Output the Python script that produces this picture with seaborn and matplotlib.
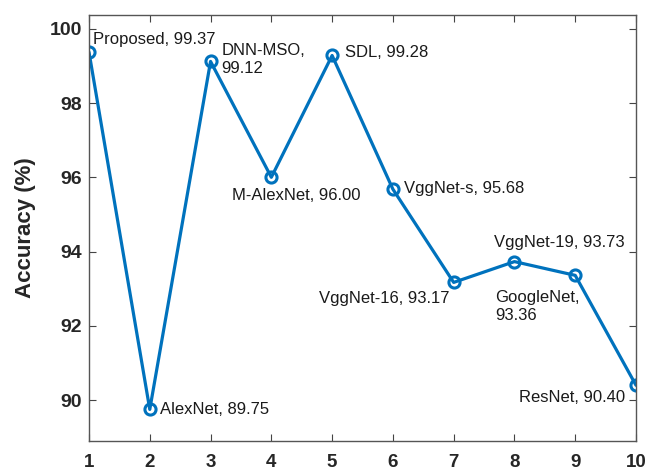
import matplotlib
matplotlib.use("Agg")
import matplotlib.pyplot as plt
import seaborn as sns
import pandas as pd

# Accuracy of each method
methods = ["Proposed", "AlexNet", "DNN-MSO", "M-AlexNet", "SDL",
           "VggNet-s", "VggNet-16", "VggNet-19", "GoogleNet", "ResNet"]
positions = [1, 2, 3, 4, 5, 6, 7, 8, 9, 10]
accuracy = [99.37, 89.75, 99.12, 96.00, 99.28, 95.68, 93.17, 93.73, 93.36, 90.40]
y_ticks = [90, 92, 94, 96, 98, 100]

# label placement: (dx, dy) offset in pixels (dy up), horizontal align, two-line
label_style = {
    "Proposed": ((4, 13), "left", False),
    "AlexNet": ((10, 0), "left", False),
    "DNN-MSO": ((11, 2), "left", True),
    "M-AlexNet": ((-39, -18), "left", False),
    "SDL": ((13, 3), "left", False),
    "VggNet-s": ((11, 1), "left", False),
    "VggNet-16": ((-4, -16), "right", False),
    "VggNet-19": ((-20, 19), "left", False),
    "GoogleNet": ((-80, -31), "left", True),
    "ResNet": ((-11, -12), "right", False),
}

df = pd.DataFrame({"x": positions, "acc": accuracy, "name": methods})

sns.set_style("white")
plt.rcParams["font.family"] = ["Liberation Sans", "DejaVu Sans"]

fig = plt.figure(figsize=(6.49, 4.73), dpi=100)
ax = fig.add_axes([89 / 649, 1 - 441 / 473, (636 - 89) / 649, (441 - 15) / 473])

blue = "#0072BD"
sns.lineplot(data=df, x="x", y="acc", ax=ax, color=blue, linewidth=2.3,
             marker="o", markersize=8, markerfacecolor="none",
             markeredgecolor=blue, markeredgewidth=2.2)

for name, xv, yv in zip(methods, positions, accuracy):
    (dx, dy), ha, split = label_style[name]
    text = f"{name},\n{yv:.2f}" if split else f"{name}, {yv:.2f}"
    ax.annotate(text, (xv, yv), xytext=(dx, dy), textcoords="offset pixels",
                ha=ha, va="center", fontsize=12, color="#1a1a1a",
                linespacing=1.3)

ax.set_xlim(1, 10)
ax.set_ylim(88.9, 100.37)
ax.set_xticks(positions)
ax.set_yticks(y_ticks)
ax.set_xlabel("")
ax.set_ylabel("Accuracy (%)", fontsize=16, fontweight="bold", color="#262626",
              labelpad=10)

for lbl in ax.get_yticklabels():
    lbl.set_fontweight("bold")
    lbl.set_fontsize(14)
    lbl.set_color("#262626")
for lbl in ax.get_xticklabels():
    lbl.set_fontweight("bold")
    lbl.set_fontsize(13.5)
    lbl.set_color("#262626")

ax.tick_params(direction="in", length=5, width=0.8, color="#444444",
               top=True, right=True, bottom=True, left=True)
ax.tick_params(axis="x", pad=9)
ax.tick_params(axis="y", pad=5)
for sp in ax.spines.values():
    sp.set_color("#555555")
    sp.set_linewidth(1.0)
    sp.set_visible(True)

fig.savefig("out.png", dpi=100)
